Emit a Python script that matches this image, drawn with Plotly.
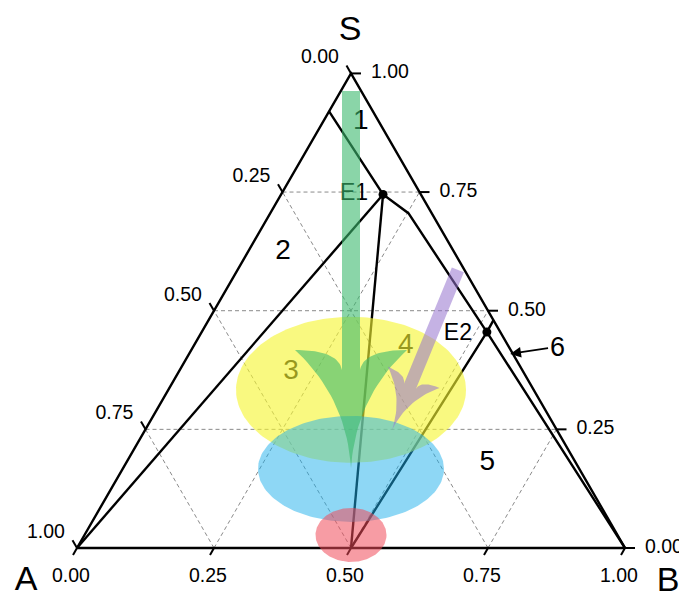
import numpy as np
import plotly.graph_objects as go

H3 = np.sqrt(3) / 2
PX = 1 / 548.0  # one screen pixel in data units (triangle side = 548 px)

# ---------------- data (ternary fractions S, A, B) ----------------
tick_values = [0.0, 0.25, 0.5, 0.75, 1.0]
tick_labels = ["0.00", "0.25", "0.50", "0.75", "1.00"]
grid_values = [0.25, 0.5, 0.75]

vertex_S = (1.0, 0.0, 0.0)
vertex_A = (0.0, 1.0, 0.0)
vertex_B = (0.0, 0.0, 1.0)

E1 = (0.745, 0.069, 0.186)
E2 = (0.455, 0.0245, 0.5205)
P_mid = (0.0, 0.5, 0.5)
L_top = (0.92, 0.08, 0.0)
K_bend = (0.7055, 0.0425, 0.252)
R_edge = (0.48, 0.0, 0.52)

boundary_lines = [
    [vertex_A, E1],
    [L_top, E1, K_bend, E2, vertex_B],
    [E1, P_mid],
    [P_mid, E2, R_edge],
]

point_labels = ["E1", "E2"]

region_labels = ["1", "2", "3", "4", "5"]
region_S = [0.898, 0.624, 0.371, 0.426, 0.179]
region_A = [0.033, 0.312, 0.424, 0.187, 0.162]
region_B = [0.069, 0.064, 0.205, 0.387, 0.659]

label6_pos = (0.424, -0.088, 0.664)
label6_tip = (0.409, 0.005, 0.586)

ellipse_centers = [(1 / 3, 1 / 3, 1 / 3), (1 / 6, 5 / 12, 5 / 12), (0.0274, 0.4863, 0.4863)]
ellipse_colors = ["rgba(245,245,50,0.62)", "rgba(30,175,235,0.5)", "rgba(240,75,90,0.55)"]

green_arrow = [(0.963, 0.0185, 0.0185), (0.1686, 0.4157, 0.4157)]
purple_arrow = [(0.586, 0.012, 0.402), (0.2487, 0.301, 0.4505)]


def xy(p):
    s, a, b = p
    return b + s / 2.0, s * H3


def pts(seq):
    xs, ys = zip(*[xy(p) for p in seq])
    return list(xs), list(ys)


fig = go.Figure()
FONT = "Liberation Sans, Arial, sans-serif"
LW = 2.4

# ---- gridlines ----
gx, gy = [], []
for v in grid_values:
    for a, b in [((v, 1 - v, 0), (v, 0, 1 - v)),      # S = const
                 ((0, v, 1 - v), (1 - v, v, 0)),      # A = const
                 ((0, 1 - v, v), (1 - v, 0, v))]:     # B = const
        x0, y0 = xy(a)
        x1, y1 = xy(b)
        gx += [x0, x1, None]
        gy += [y0, y1, None]
fig.add_trace(go.Scatter(x=gx, y=gy, mode="lines",
                         line=dict(color="#8a8a8a", width=1, dash="4px,3px"),
                         hoverinfo="skip"))

# ---- triangle ----
tx, ty = pts([vertex_A, vertex_B, vertex_S, vertex_A])
fig.add_trace(go.Scatter(x=tx, y=ty, mode="lines", line=dict(color="black", width=LW),
                         hoverinfo="skip"))

# ---- ticks ----
kx, ky = [], []
for t in tick_values:
    x0, y0 = xy((t, 1 - t, 0))
    kx += [x0, x0 - 0.5 * 9 * PX, None]
    ky += [y0, y0 + H3 * 9 * PX, None]
    x0, y0 = xy((t, 0, 1 - t))
    kx += [x0, x0 + 10 * PX, None]
    ky += [y0, y0, None]
    x0, y0 = xy((0, 1 - t, t))
    kx += [x0, x0 - 0.5 * 8 * PX, None]
    ky += [y0, y0 - H3 * 8 * PX, None]
fig.add_trace(go.Scatter(x=kx, y=ky, mode="lines", line=dict(color="black", width=2),
                         hoverinfo="skip"))

# ---- tick labels ----
lx, ly, lt = [], [], []
for t, lab in zip(tick_values, tick_labels):
    x0, y0 = xy((t, 1 - t, 0))
    lx.append(x0 - 31 * PX); ly.append(y0 + 15 * PX)
    lt.append(tick_labels[tick_values.index(1 - t)])
    x0, y0 = xy((t, 0, 1 - t))
    lx.append(x0 + 39 * PX); ly.append(y0); lt.append(lab)
    x0, y0 = xy((0, 1 - t, t))
    lx.append(x0 - 6 * PX); ly.append(y0 - 29 * PX); lt.append(lab)
fig.add_trace(go.Scatter(x=lx, y=ly, text=lt, mode="text", textposition="middle center",
                         textfont=dict(family=FONT, size=19.5, color="black"), hoverinfo="skip"))

# ---- vertex names ----
vx, vy = [], []
for p, (ox, oy) in zip([vertex_S, vertex_A, vertex_B], [(-1, 42), (-51, -33), (43, -34)]):
    x0, y0 = xy(p)
    vx.append(x0 + ox * PX); vy.append(y0 + oy * PX)
fig.add_trace(go.Scatter(x=vx, y=vy, text=["S", "A", "B"], mode="text",
                         textposition="middle center",
                         textfont=dict(family=FONT, size=34, color="black"), hoverinfo="skip"))

# ---- phase boundaries ----
for seq in boundary_lines:
    x, y = pts(seq)
    fig.add_trace(go.Scatter(x=x, y=y, mode="lines", line=dict(color="black", width=LW),
                             hoverinfo="skip"))

# ---- invariant points ----
ex, ey = pts([E1, E2])
fig.add_trace(go.Scatter(x=ex, y=ey, mode="markers", marker=dict(color="black", size=9),
                         hoverinfo="skip"))
fig.add_trace(go.Scatter(x=[v - 29 * PX for v in ex], y=[ey[0], ey[1] - 2 * PX],
                         text=point_labels, mode="text", textposition="middle center",
                         textfont=dict(family=FONT, size=23, color="black"), hoverinfo="skip"))

# ---- region labels ----
rx_, ry_ = pts(list(zip(region_S, region_A, region_B)))
fig.add_trace(go.Scatter(x=rx_, y=ry_, text=region_labels, mode="text",
                         textposition="middle center",
                         textfont=dict(family=FONT, size=28, color="black"), hoverinfo="skip"))

# ---- ellipses (drawn over lines, translucent) ----
ell_radii = [(115 * PX, 73 * PX), (93 * PX, 53 * PX), (35.5 * PX, 27 * PX)]
th = np.linspace(0, 2 * np.pi, 181)
for c, (rxe, rye), col in zip(ellipse_centers, ell_radii, ellipse_colors):
    cx, cy = xy(c)
    fig.add_trace(go.Scatter(x=cx + rxe * np.cos(th), y=cy + rye * np.sin(th), mode="lines",
                             fill="toself", fillcolor=col, line=dict(width=0),
                             hoverinfo="skip"))


# ---- arrows ----
def quad(p0, c, p2, n=24):
    t = np.linspace(0, 1, n)[:, None]
    return (1 - t) ** 2 * np.array(p0) + 2 * t * (1 - t) * np.array(c) + t ** 2 * np.array(p2)


def arrow_poly(start, tip, hw, H, spread):
    p0 = np.array(xy(start)); p1 = np.array(xy(tip))
    L = np.linalg.norm(p1 - p0)
    d = (p1 - p0) / L
    nrm = np.array([-d[1], d[0]])
    join = 0.83 * H
    side = []
    for sgn in (1, -1):
        seg = [np.array([[L, sgn * hw], [join, sgn * hw]])]
        seg.append(quad((join, sgn * hw), (H, sgn * (hw + 0.03 * H)), (H, sgn * spread)))
        seg.append(quad((H, sgn * spread), (0.6 * H, sgn * 0.04 * H), (0, 0)))
        loc = np.vstack(seg)
        if sgn == -1:
            loc = loc[::-1]
        side.append(loc)
    loc = np.vstack(side)
    P = p1[None, :] - loc[:, :1] * d[None, :] + loc[:, 1:2] * nrm[None, :]
    return P[:, 0], P[:, 1]


for (st, tp), (hw, H, sp), col in [
        (green_arrow, (9 * PX, 118 * PX, 56 * PX), "rgba(60,185,110,0.6)"),
        (purple_arrow, (6.5 * PX, 57 * PX, 28 * PX), "rgba(150,115,205,0.55)")]:
    ax_, ay_ = arrow_poly(st, tp, hw, H, sp)
    fig.add_trace(go.Scatter(x=ax_, y=ay_, mode="lines", fill="toself", fillcolor=col,
                             line=dict(width=0), hoverinfo="skip"))

# ---- label 6 with arrow ----
x6, y6 = xy(label6_pos)
xt, yt = xy(label6_tip)
fig.add_annotation(x=xt, y=yt, ax=x6, ay=y6, axref="x", ayref="y", xref="x", yref="y",
                   text="6", showarrow=True, arrowhead=2, arrowsize=1.2, arrowwidth=1.8,
                   arrowcolor="black", font=dict(family=FONT, size=27, color="black"))

# page body has an 8 px margin: the figure starts at page pixel (8, 8)
fig.update_layout(
    width=679, height=589, margin=dict(l=0, r=0, t=0, b=0),
    paper_bgcolor="white", plot_bgcolor="white", showlegend=False,
    xaxis=dict(range=[-69 * PX, 610 * PX], visible=False, fixedrange=True),
    yaxis=dict(range=[-49 * PX, 540 * PX], visible=False, fixedrange=True),
)
fig.write_html("out.html")
